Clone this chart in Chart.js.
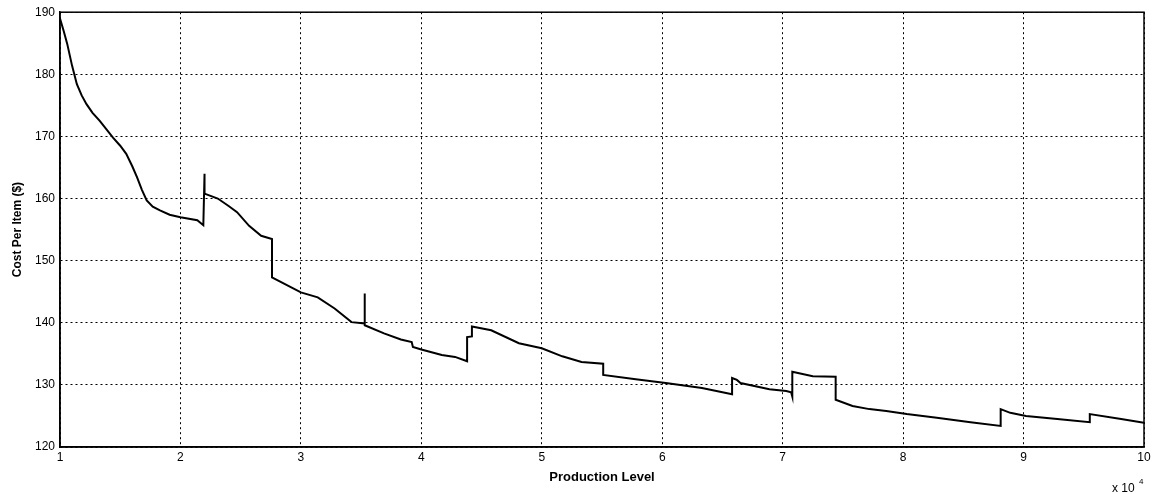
<!DOCTYPE html>
<html lang="en">
<head>
    <meta charset="UTF-8">
    <title>Cost Per Item vs Production Level</title>
    <script src="https://cdn.jsdelivr.net/npm/chart.js"></script>
    <style>
        html, body { margin: 0; padding: 0; background: #fff; }
    </style>
</head>
<body>
    <canvas id="costChart" width="1159" height="494"></canvas>

    <script>
        // production level in units of 10^4
        const productionLevel = [
            1.00, 1.03, 1.06, 1.10, 1.14, 1.18, 1.22, 1.27, 1.33, 1.44,
            1.50, 1.55, 1.60, 1.64, 1.68, 1.72, 1.77, 1.83, 1.91, 2.00,
            2.14, 2.19, 2.20, 2.20, 2.31, 2.40, 2.47, 2.57, 2.67, 2.76,
            2.76, 2.86, 3.00, 3.14, 3.28, 3.42, 3.53, 3.53, 3.53, 3.69,
            3.83, 3.92, 3.93, 4.00, 4.17, 4.28, 4.38, 4.38, 4.42, 4.42,
            4.58, 4.81, 5.00, 5.17, 5.33, 5.51, 5.51, 5.78, 6.03, 6.33,
            6.58, 6.58, 6.62, 6.65, 6.89, 7.03, 7.07, 7.08, 7.08, 7.25,
            7.44, 7.44, 7.58, 7.72, 7.86, 8.03, 8.28, 8.56, 8.81, 8.81,
            8.89, 9.02, 9.28, 9.55, 9.55, 9.81, 10.00
        ];
        const costPerItem = [
            189.0, 187.0, 184.9, 181.4, 178.4, 176.6, 175.2, 173.8, 172.5, 169.8,
            168.5, 167.2, 165.2, 163.4, 161.4, 159.7, 158.7, 158.1, 157.4, 157.0,
            156.5, 155.7, 164.0, 160.8, 160.0, 158.8, 157.8, 155.6, 154.0, 153.5,
            147.3, 146.3, 144.9, 144.1, 142.3, 140.1, 139.9, 144.7, 139.6, 138.3,
            137.3, 136.9, 136.1, 135.7, 134.8, 134.5, 133.8, 137.7, 137.8, 139.4,
            138.8, 136.7, 135.9, 134.6, 133.7, 133.4, 131.6, 130.9, 130.3, 129.5,
            128.5, 131.1, 130.8, 130.3, 129.3, 129.0, 128.8, 128.1, 132.1, 131.4,
            131.3, 127.6, 126.6, 126.1, 125.8, 125.3, 124.7, 124.0, 123.4, 126.1,
            125.5, 125.0, 124.5, 124.0, 125.3, 124.5, 123.9
        ];
        const xTicks = [1, 2, 3, 4, 5, 6, 7, 8, 9, 10];
        const yTicks = [120, 130, 140, 150, 160, 170, 180, 190];

        const points = productionLevel.map((x, i) => ({ x: x, y: costPerItem[i] }));
        const fontFamily = "'Liberation Sans', Arial, sans-serif";

        // box around plot + exponent label
        const framePlugin = {
            id: 'frame',
            afterDraw(chart) {
                const { ctx, chartArea } = chart;
                ctx.save();
                ctx.strokeStyle = '#000';
                ctx.lineWidth = 1.5;
                ctx.strokeRect(chartArea.left, chartArea.top, chartArea.right - chartArea.left, chartArea.bottom - chartArea.top);
                ctx.fillStyle = '#000';
                ctx.font = "12px " + fontFamily;
                ctx.textBaseline = 'alphabetic';
                ctx.textAlign = 'left';
                ctx.fillText('x 10', 1112, 492);
                ctx.font = "8px " + fontFamily;
                ctx.fillText('4', 1139, 484);
                ctx.restore();
            }
        };

        const ctx = document.getElementById('costChart').getContext('2d');
        new Chart(ctx, {
            type: 'line',
            data: {
                datasets: [{
                    data: points,
                    borderColor: '#000',
                    borderWidth: 2,
                    pointRadius: 0,
                    tension: 0,
                    fill: false
                }]
            },
            options: {
                responsive: false,
                animation: false,
                layout: { padding: { top: 11, right: 15, left: 0, bottom: 9 } },
                plugins: {
                    legend: { display: false },
                    tooltip: { enabled: false }
                },
                scales: {
                    x: {
                        type: 'linear',
                        min: 1,
                        max: 10,
                        afterBuildTicks: axis => { axis.ticks = xTicks.map(v => ({ value: v })); },
                        afterFit: axis => { axis.height = 38; },
                        ticks: {
                            color: '#000',
                            font: { family: fontFamily, size: 12 },
                            padding: 3,
                            maxRotation: 0
                        },
                        grid: { color: '#000', lineWidth: 1, drawTicks: false },
                        border: { display: true, color: '#000', width: 1.5, dash: [2, 3] },
                        title: {
                            display: true,
                            text: 'Production Level',
                            color: '#000',
                            font: { family: fontFamily, size: 13, weight: 'bold' },
                            padding: { top: 0, bottom: 0 }
                        }
                    },
                    y: {
                        min: 120,
                        max: 190,
                        afterBuildTicks: axis => { axis.ticks = yTicks.map(v => ({ value: v })); },
                        afterFit: axis => { axis.width = 60; },
                        ticks: {
                            color: '#000',
                            font: { family: fontFamily, size: 12 },
                            padding: 5
                        },
                        grid: { color: '#000', lineWidth: 1, drawTicks: false },
                        border: { display: true, color: '#000', width: 1.5, dash: [2, 3] },
                        title: {
                            display: true,
                            text: 'Cost Per Item ($)',
                            color: '#000',
                            font: { family: fontFamily, size: 12, weight: 'bold' },
                            padding: { top: 10, bottom: 0 }
                        }
                    }
                }
            },
            plugins: [framePlugin]
        });
    </script>
</body>
</html>
